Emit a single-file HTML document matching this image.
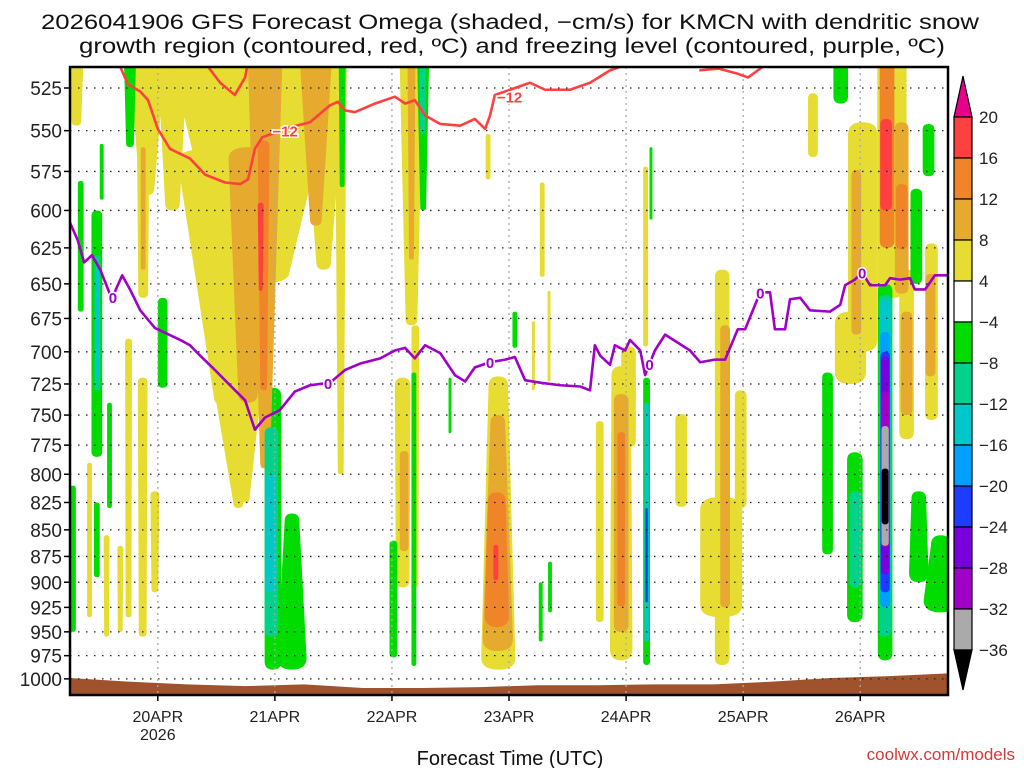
<!DOCTYPE html>
<html><head><meta charset="utf-8"><style>
html,body{margin:0;padding:0;background:#fff;}
svg{display:block;font-family:"Liberation Sans",sans-serif;}
</style></head><body>
<svg id="chart" width="1024" height="768" viewBox="0 0 1024 768">
<defs><clipPath id="plotclip"><rect x="70" y="67" width="878" height="628"/></clipPath></defs>
<rect x="0" y="0" width="1024" height="768" fill="#fff"/>
<text x="41" y="29" font-size="21" textLength="938" lengthAdjust="spacingAndGlyphs" fill="#111">2026041906 GFS Forecast Omega (shaded, −cm/s) for KMCN with dendritic snow</text>
<text x="79" y="53" font-size="21" textLength="866" lengthAdjust="spacingAndGlyphs" fill="#111">growth region (contoured, red, ºC) and freezing level (contoured, purple, ºC)</text>
<g id="shading" clip-path="url(#plotclip)"></g>
<g id="ground" clip-path="url(#plotclip)"></g>
<g id="grid"></g>
<g id="contours" clip-path="url(#plotclip)"></g>
<rect x="70" y="67" width="878" height="628" fill="none" stroke="#000" stroke-width="2.5"/>
<g id="axes"></g>
<g id="colorbar"></g>
<text x="510" y="765" font-size="20" text-anchor="middle" fill="#111">Forecast Time (UTC)</text>
<text x="1015" y="760" font-size="17" text-anchor="end" fill="#d83a3a">coolwx.com/models</text>
</svg>
<script>
const pressureTicks=[525,550,575,600,625,650,675,700,725,750,775,800,825,850,875,900,925,950,975,1000];
const dateLabels=["20APR","21APR","22APR","23APR","24APR","25APR","26APR"];
const dateHours=[18,42,66,90,114,138,162];
const cbLevels=[20,16,12,8,4,-4,-8,-12,-16,-20,-24,-28,-32,-36];
const cbColors=["#ff4040","#f08428","#e6aa2e","#e6dc32","#ffffff","#00dc00","#00d28c","#00c8c8","#00a0ff","#1e3cff","#7800dc","#a000c8","#aaaaaa"];
const levelColor={"1":"#e6dc32","2":"#e6aa2e","3":"#f08428","4":"#ff4040","-1":"#00dc00","-2":"#00d28c","-3":"#00c8c8","-4":"#00a0ff","-5":"#1e3cff","-6":"#7800dc","-7":"#a000c8","-8":"#aaaaaa","-9":"#000000"};
// omega cells: [forecastHour, halfWidthTopHours, halfWidthBottomHours, pTop, pBottom, level]
const omegaCells=[
[1.3,1.4,1.0,513,547,1],[15.8,3.6,1.5,513,590,1],[21,3,1.5,513,600,1],[38,17,7,513,650,1],[36,6,0.8,630,825,1],
[34,12,4.5,560,745,1],[34.5,4.5,1,730,830,1],
[52,4.5,1.5,513,640,1],[55.5,1.2,0.6,513,800,1],[15,1.4,1.0,513,660,1],[4,0.5,0.5,790,935,1],[7.5,0.6,0.5,855,955,1],
[10.3,0.6,0.5,865,950,1],[12,0.7,0.6,690,935,1],[14.9,1.0,0.8,720,955,1],[17.4,0.9,0.7,815,910,1],
[70,2.4,1.2,513,680,1],[70.8,0.8,0.6,680,905,1],[68.2,1.6,1.4,720,905,1],[85.7,0.5,0.5,552,580,1],[96.8,0.5,0.5,582,645,1],
[95,0.3,0.3,677,730,1],[98.2,0.3,0.3,655,723,1],[87.8,2.0,3.5,719,990,1],[113,2.0,2.3,711,980,1],[114.5,1.5,1.5,696,777,1],
[108.6,0.8,0.8,755,940,1],[118,0.5,0.5,572,696,1],[125.3,1.2,1.2,749,829,1],[133.7,1.5,1.5,640,985,1],[133.5,4.3,4.3,820,935,1],
[137.5,1.2,1.2,730,830,1],[152.3,1,1,528,566,1],[162.5,3,3,545,700,1],[160,3.2,3.2,670,725,1],[168.5,3.0,3.0,513,660,1],
[171.5,1.5,1.5,640,770,1],[176.6,1.3,1.3,622,754,1],
[15,0.5,0.5,560,640,2],[40,3.5,1.0,513,795,2],[36.5,4,2,560,740,2],[50.4,3.2,1.2,513,610,2],[68.5,0.9,0.9,780,870,2],[70,0.8,0.5,513,633,2],
[87.7,1.5,3.1,750,970,2],[113,1.5,1.5,733,950,2],[134.3,1.0,1.0,680,925,2],[161.2,1.0,1.0,574,687,2],[170.5,1.4,1.4,545,657,2],
[171.5,1.2,1.2,670,750,2],[176.4,1.0,1.0,643,719,2],
[39.7,1.2,0.7,556,730,3],[87.5,1.8,2.5,816,945,3],[113,0.8,0.8,764,924,3],[167.5,1.5,1.5,513,625,3],[170.5,1.2,1.2,583,626,3],
[39.1,0.6,0.4,595,655,4],[87.3,0.5,0.5,864,898,4],[167.3,1.2,1.2,543,600,4],
[0.6,0.6,0.6,810,950,-1],[2.2,0.6,0.6,581,670,-1],[6.5,0.4,0.4,558,593,-1],[5.5,1.1,1.1,600,785,-1],[8.1,0.5,0.5,740,830,-1],
[5.5,0.6,0.6,825,895,-1],[19,1,1,660,728,-1],[12.3,1.2,0.8,513,560,-1],[55.8,0.7,0.5,513,585,-1],
[41.6,1.7,1.7,728,990,-1],[45.5,1.5,3.0,835,990,-1],[72.4,1.2,0.6,513,600,-1],[70.5,0.5,0.5,716,986,-1],[66.3,0.8,0.8,860,977,-1],
[77.9,0.3,0.3,720,765,-1],[91.2,0.5,0.5,670,697,-1],[96.5,0.4,0.4,900,960,-1],[98.4,0.4,0.4,880,930,-1],[119.1,0.3,0.3,560,606,-1],
[118.2,0.7,0.7,720,985,-1],[158,1.5,1.5,513,534,-1],[155.3,1.1,1.1,716,873,-1],[160.9,1.6,1.6,781,940,-1],[176,1.2,1.2,546,578,-1],
[173.5,1.2,1.2,586,650,-1],[174,1.5,2,815,900,-1],[178.5,2,3.5,855,930,-1],[167.1,1.5,1.5,650,980,-1],
[5.6,0.6,0.6,630,730,-2],[41.3,1.4,1.4,760,955,-2],[72.3,0.7,0.5,513,552,-2],[161,1.2,1.2,815,905,-2],[167.1,1.3,1.3,658,955,-2],
[5.6,0.4,0.4,640,720,-3],[41.2,1.0,1.0,800,910,-3],[118.2,0.45,0.45,740,960,-3],[167.1,1.15,1.15,661,925,-3],
[167.1,1.0,1.0,685,925,-4],[118.2,0.25,0.25,830,920,-5],[167.1,0.95,0.95,700,910,-5],[167.1,0.9,0.9,704,892,-6],
[167.1,0.85,0.85,731,866,-7],[167.1,0.75,0.75,759,865,-8],[167.1,0.7,0.7,795,845,-9]
];
const groundHours=[0,12,24,36,48,60,72,84,96,108,120,132,144,156,168,180];
const groundPressure=[999,1003,1006,1008,1006,1010,1010,1009,1007,1007,1006,1006,1003,999,997,994];
const freezeHours=[0,1.6,2.9,4.5,6.2,8.6,9.4,10.7,12.3,14.4,17.4,22.6,24.6,26.7,29.7,32.8,35.9,37.9,40,43,46.1,49.2,53.3,56.4,59.5,63.6,66.6,68.7,70.7,72.8,75.9,78.9,81,83,86.1,89.2,91.2,93.3,96.4,100.5,104.6,106.6,107.6,108.7,110.7,111.7,113.8,114.8,116.9,117.9,119.9,122,127.1,129.2,132.2,134.3,136.9,138.4,141.5,143.5,144.5,146.6,147.6,149.7,151.7,155.8,157.9,158.9,160.9,162.4,164,167.1,168.1,170.2,172.2,173.2,175.3,177.3,180];
const freezePressure=[608,620,635,630,640,661,654,644,654,669,682,691,695,703,714,726,738,762,752,746,731,726,724,714,709,705,699,697,705,695,701,718,723,712,708,706,704,722,724,726,727,730,695,703,710,695,699,691,699,718,699,687,699,708,706,706,683,683,656,656,683,683,661,660,669,670,665,651,647,642,651,651,646,647,646,654,654,644,644];
const dgzHoursA=[10.3,11.9,14.4,16,18,20.5,24.6,27.7,31.8,34.9,36.5,37.9,39.4,45.1,49.2,53.3,54.9,56.4,58.4,62.5,66.6,68.7,70.7,72.8,75.9,80,83,85.1,86.1,87.1,90.2,94.3,97.4,102.5,106.6,110.7,112.8];
const dgzPressA=[513,523,527,532,549,561,567,577,582,583,580,561,554,548,545,535,533,538,539,534,530,534,532,541,546,547,543,549,541,529,526,522,526,526,522,515,513];
const dgzHoursB=[28.3,30.8,33.8,35.9,36.3];
const dgzPressB=[513,522,529,519,513];
const dgzHoursC=[129,133,137,139,142];
const dgzPressC=[515,514,517,519,513];
const freezeLabelHours=[8.8,52.9,86.1,118.8,141.5,162.4];
const dgzLabelHours=[41.5,87.5];
const dgzLabelPress=[550,530];

const NS="http://www.w3.org/2000/svg";
const X=h=>70+h*4.878;
const Y=p=>88+917*Math.log(p/525);
function mk(tag,attrs,parent){const e=document.createElementNS(NS,tag);for(const k in attrs)e.setAttribute(k,attrs[k]);parent.appendChild(e);return e;}
function interp(hs,ps,h){for(let i=1;i<hs.length;i++){if(h<=hs[i]){const t=(h-hs[i-1])/(hs[i]-hs[i-1]);return ps[i-1]+t*(ps[i]-ps[i-1]);}}return ps[ps.length-1];}

const shading=document.getElementById('shading');
const cells=omegaCells.slice().sort((a,b)=>Math.abs(a[5])-Math.abs(b[5]));
cells.forEach(c=>{
  const [h,wt,wb,pt,pb,lv]=c;
  const xlT=X(h-wt),xrT=X(h+wt),xlB=X(h-wb),xrB=X(h+wb);
  const yT=Y(pt),yB=Y(pb);
  const rT=pt<=514?0:Math.min((xrT-xlT)/2,12,(yB-yT)/3);
  const rB=Math.min((xrB-xlB)/2,12,(yB-yT)/3);
  const d=`M${xlT},${yT+rT} L${xlB},${yB-rB} Q${xlB},${yB} ${(xlB+xrB)/2},${yB} Q${xrB},${yB} ${xrB},${yB-rB} L${xrT},${yT+rT} Q${xrT},${yT} ${(xlT+xrT)/2},${yT} Q${xlT},${yT} ${xlT},${yT+rT} Z`;
  const el=mk('path',{d:d,fill:levelColor[String(lv)]},shading);
  
  
});

const gg=document.getElementById('ground');
let gd=`M${X(groundHours[0])},700`;
groundHours.forEach((h,i)=>{gd+=` L${X(h)},${Y(groundPressure[i])}`;});
gd+=` L${X(groundHours[groundHours.length-1])},700 Z`;
const gp=mk('path',{d:gd,fill:'#a0522d'},gg);



const grid=document.getElementById('grid');
pressureTicks.forEach(p=>{
  const l=mk('line',{x1:70,x2:948,y1:Y(p),y2:Y(p),stroke:'#222','stroke-width':1.3,'stroke-dasharray':'1.5 6.5'},grid);
  
  
});
dateHours.forEach(h=>{
  const l=mk('line',{x1:X(h),x2:X(h),y1:67,y2:695,stroke:'#aaa','stroke-width':1.3,'stroke-dasharray':'2 4'},grid);
  
  
});

const ct=document.getElementById('contours');
function line(hs,ps,color,name){
  const d=hs.map((h,i)=>(i?'L':'M')+X(h)+','+Y(ps[i])).join(' ');
  const el=mk('path',{d:d,fill:'none',stroke:color,'stroke-width':2.6,'stroke-linejoin':'round'},ct);
  
  
}
line(freezeHours,freezePressure,'#a000c8','freezing-level-line');
line(dgzHoursA,dgzPressA,'#ff4040','dgz-minus12-line');
line(dgzHoursB,dgzPressB,'#ff4040','dgz-minus12-line-b');
line(dgzHoursC,dgzPressC,'#ff4040','dgz-minus12-line-c');
freezeLabelHours.forEach(h=>{
  const p=interp(freezeHours,freezePressure,h);
  const t=mk('text',{x:X(h),y:Y(p)+6,'font-size':15,'font-weight':'bold','text-anchor':'middle',fill:'#a000c8',stroke:'#fff','stroke-width':3,'paint-order':'stroke'},ct);
  t.textContent='0';
  
  
});
dgzLabelHours.forEach((h,i)=>{
  const t=mk('text',{x:X(h),y:Y(dgzLabelPress[i])+6,'font-size':15,'font-weight':'bold',fill:'#ff4040',stroke:'#fff','stroke-width':3,'paint-order':'stroke'},ct);
  t.textContent='−12';
  
  
});

const axes=document.getElementById('axes');
pressureTicks.forEach(p=>{
  const t=mk('text',{x:62,y:Y(p)+7,'font-size':19,'text-anchor':'end',fill:'#222'},axes);
  t.textContent=String(p);
  
  
  const tk=mk('line',{x1:64,x2:70,y1:Y(p),y2:Y(p),stroke:'#000','stroke-width':1.5},axes);
  
  
});
dateLabels.forEach((s,i)=>{
  const t=mk('text',{x:X(dateHours[i]),y:722,'font-size':16,'text-anchor':'middle',fill:'#222'},axes);
  t.textContent=s;
  
  
  const tk=mk('line',{x1:X(dateHours[i]),x2:X(dateHours[i]),y1:695,y2:701,stroke:'#000','stroke-width':1.5},axes);
  
  
});
const yr=mk('text',{x:X(dateHours[0]),y:740,'font-size':16,'text-anchor':'middle',fill:'#222'},axes);
yr.textContent='2026';



const cb=document.getElementById('colorbar');
const cbX=954,cbW=18,cbTop=117,cbStep=41;
const up=mk('polygon',{points:`${cbX},${cbTop} ${cbX+cbW},${cbTop} ${cbX+cbW/2},76`,fill:'#e8008a',stroke:'#000','stroke-width':1.2},cb);


cbColors.forEach((c,i)=>{
  const r=mk('rect',{x:cbX,y:cbTop+i*cbStep,width:cbW,height:cbStep,fill:c,stroke:'#000','stroke-width':1.2},cb);
  
  
});
const cbBot=cbTop+cbColors.length*cbStep;
const dn=mk('polygon',{points:`${cbX},${cbBot} ${cbX+cbW},${cbBot} ${cbX+cbW/2},690`,fill:'#000',stroke:'#000','stroke-width':1.2},cb);


cbLevels.forEach((v,i)=>{
  const t=mk('text',{x:979,y:cbTop+i*cbStep+6,'font-size':17,fill:'#222'},cb);
  t.textContent=v<0?'−'+Math.abs(v):String(v);
  
  
});
</script>
</body></html>
